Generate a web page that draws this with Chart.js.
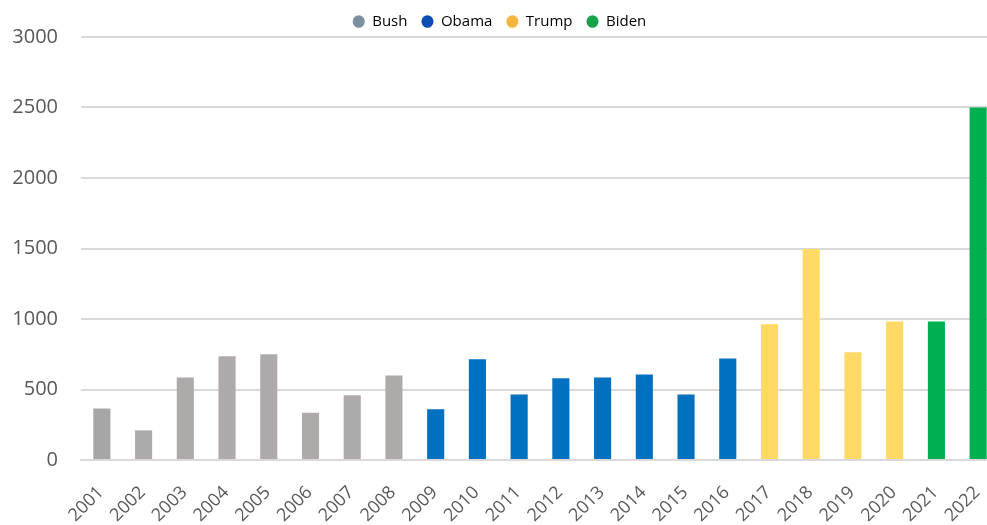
<!DOCTYPE html>
<html>
<head>
<meta charset="utf-8">
<script src="https://cdn.jsdelivr.net/npm/chart.js@4.4.1/dist/chart.umd.min.js"></script>
<style>
  html, body { margin: 0; padding: 0; background: #fff; overflow: hidden; width: 987px; height: 525px; }
  #wrap { position: absolute; left: 0; top: 0; width: 999px; height: 525px; }
</style>
</head>
<body>
<div id="wrap"><canvas id="c" width="999" height="525"></canvas></div>
<script>
const years = ['2001','2002','2003','2004','2005','2006','2007','2008','2009','2010','2011',
               '2012','2013','2014','2015','2016','2017','2018','2019','2020','2021','2022'];
const values = [365, 210, 585, 735, 750, 335, 460, 600, 360, 715, 465,
                580, 585, 607, 465, 720, 962, 1497, 765, 983, 983, 2500];
const presidentOfYear = ['Bush','Bush','Bush','Bush','Bush','Bush','Bush','Bush',
                         'Obama','Obama','Obama','Obama','Obama','Obama','Obama','Obama',
                         'Trump','Trump','Trump','Trump','Biden','Biden'];
const presidents = ['Bush','Obama','Trump','Biden'];
const barColors = { Bush: '#AEAAAA', Obama: '#0070C0', Trump: '#FFD966', Biden: '#00B050' };
const legendColors = { Bush: '#7B8FA1', Obama: '#0A4DB5', Trump: '#F4B53F', Biden: '#18A24A' };
const yTicks = [0, 500, 1000, 1500, 2000, 2500, 3000];

const colors = presidentOfYear.map(p => barColors[p]);
colors[0] = '#A6A6A6';

const legendHeightPlugin = {
  id: 'legendHeight',
  beforeLayout(chart) {
    const lg = chart.legend;
    if (lg && !lg._patched) {
      const orig = lg.fit;
      lg.fit = function () { orig.call(this); this.height = 37; };
      lg._patched = true;
    }
  }
};

new Chart(document.getElementById('c'), {
  type: 'bar',
  data: {
    labels: years,
    datasets: [{
      data: values,
      backgroundColor: colors,
      borderWidth: 0,
      barPercentage: 0.41,
      categoryPercentage: 1.0
    }]
  },
  plugins: [legendHeightPlugin],
  options: {
    responsive: false,
    devicePixelRatio: 1,
    animation: false,
    layout: { padding: 0 },
    plugins: {
      tooltip: { enabled: false },
      legend: {
        display: true,
        position: 'top',
        onClick: null,
        labels: {
          usePointStyle: true,
          pointStyle: 'circle',
          pointStyleWidth: 12,
          boxHeight: 9,
          padding: 14,
          color: '#333333',
          font: { family: 'Open Sans', size: 15 },
          generateLabels: () => presidents.map(p => ({
            text: p,
            fillStyle: legendColors[p],
            strokeStyle: legendColors[p],
            lineWidth: 0,
            pointStyle: 'circle',
            hidden: false,
            datasetIndex: 0
          }))
        }
      }
    },
    scales: {
      x: {
        grid: { display: false, drawTicks: false },
        border: { display: true, color: '#D9D9D9', width: 2 },
        ticks: {
          color: '#595959',
          font: { family: 'Open Sans', size: 18 },
          minRotation: 45,
          maxRotation: 45,
          padding: 22,
          labelOffset: -1,
          autoSkip: false
        },
        afterFit: s => {
          s.height = 65;
          s.paddingLeft = 0; s.paddingRight = 0; s.paddingTop = 0; s.paddingBottom = 0;
        }
      },
      y: {
        min: 0,
        max: 3000,
        afterBuildTicks: s => { s.ticks = yTicks.map(v => ({ value: v })); },
        grid: { color: '#D9D9D9', lineWidth: 2, drawTicks: false },
        border: { display: false },
        ticks: {
          color: '#595959',
          font: { family: 'Open Sans', size: 20 },
          padding: 23,
          callback: v => String(v)
        },
        afterFit: s => {
          s.width = 81;
          s.paddingTop = 0; s.paddingBottom = 0;
        }
      }
    }
  }
});
</script>
</body>
</html>
